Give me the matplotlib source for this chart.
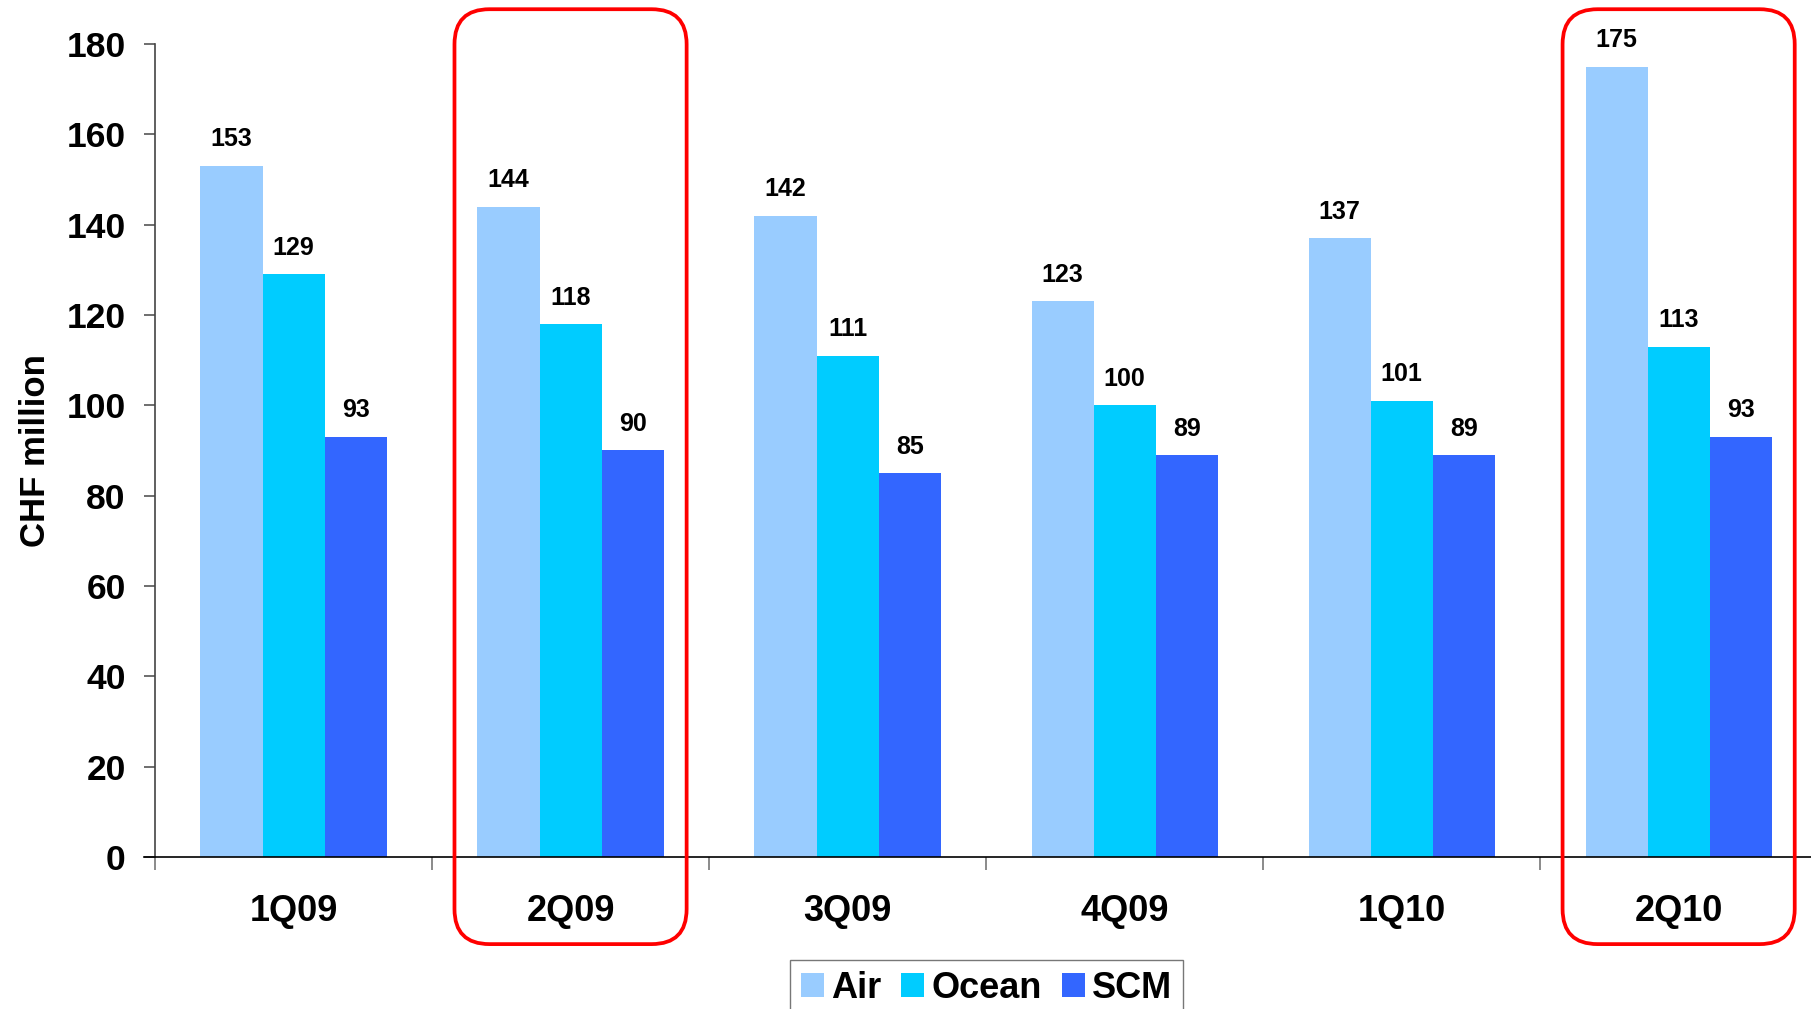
import numpy as np
import matplotlib.pyplot as plt
from matplotlib.patches import FancyBboxPatch
from matplotlib.transforms import IdentityTransform

plt.rcParams['font.family'] = ['Liberation Sans', 'DejaVu Sans']
plt.rcParams['font.weight'] = 'bold'

quarters = ['1Q09', '2Q09', '3Q09', '4Q09', '1Q10', '2Q10']
air = [153, 144, 142, 123, 137, 175]
ocean = [129, 118, 111, 100, 101, 113]
scm = [93, 90, 85, 89, 89, 93]
series = [('Air', air, '#99CCFF'), ('Ocean', ocean, '#00CCFF'), ('SCM', scm, '#3366FF')]
highlight = ['2Q09', '2Q10']

fig = plt.figure(figsize=(18.11, 10.09), dpi=100)
ax = fig.add_axes([0.0856, 0.1507, 0.9178, 0.8057])

x = np.arange(len(quarters))
w = 0.224
for i, (name, vals, col) in enumerate(series):
    pos = x + (i - 1) * w
    ax.bar(pos, vals, width=w, color=col, label=name, zorder=2)
    for px, v in zip(pos, vals):
        ax.annotate(str(v), (px, v), xytext=(0, 14), textcoords='offset points',
                    ha='center', va='baseline', fontsize=18, fontweight='bold')

ax.set_xlim(-0.5, len(quarters) - 0.5)
ax.set_ylim(0, 180)
ax.set_yticks(range(0, 181, 20))
ax.tick_params(axis='y', labelsize=25.5, length=8, width=1.2, color='#555555', pad=13)

ax.set_xticks(x)
ax.set_xticklabels(quarters)
ax.set_xticks(np.arange(-0.5, len(quarters)), minor=True)
ax.tick_params(axis='x', which='major', length=0, labelsize=26, pad=27)
ax.tick_params(axis='x', which='minor', length=9, width=1.2, color='#777777')

for s in ['top', 'right']:
    ax.spines[s].set_visible(False)
ax.spines['left'].set_color('#444444')
ax.spines['left'].set_linewidth(1.2)
ax.spines['bottom'].set_linewidth(1.2)
ax.spines['bottom'].set_bounds(-0.54, len(quarters) - 0.5)

ax.set_ylabel('CHF million', fontsize=25, fontweight='bold')
ax.yaxis.set_label_coords(-0.062, 0.5)

ax.legend(loc='upper center', bbox_to_anchor=(0.5447, 0.0486), bbox_transform=fig.transFigure,
          ncol=3, fontsize=26, frameon=True, fancybox=False, edgecolor='#555555',
          handlelength=0.64, handleheight=0.64, handletextpad=0.2, columnspacing=0.55,
          borderpad=0.3, borderaxespad=0)

# rounded red frames around the highlighted quarters
fig.canvas.draw()
for q in highlight:
    i = quarters.index(q)
    (x0, y0), (x1, y1) = ax.transData.transform([(i - 0.419, -19.3), (i + 0.419, 187.7)])
    box = FancyBboxPatch((x0, y0), x1 - x0, y1 - y0, boxstyle='round,pad=0,rounding_size=35',
                         fill=False, edgecolor='#FF0000', linewidth=2.7,
                         transform=IdentityTransform(), clip_on=False, zorder=5)
    fig.patches.append(box)

fig.savefig('out.png', dpi=100)
